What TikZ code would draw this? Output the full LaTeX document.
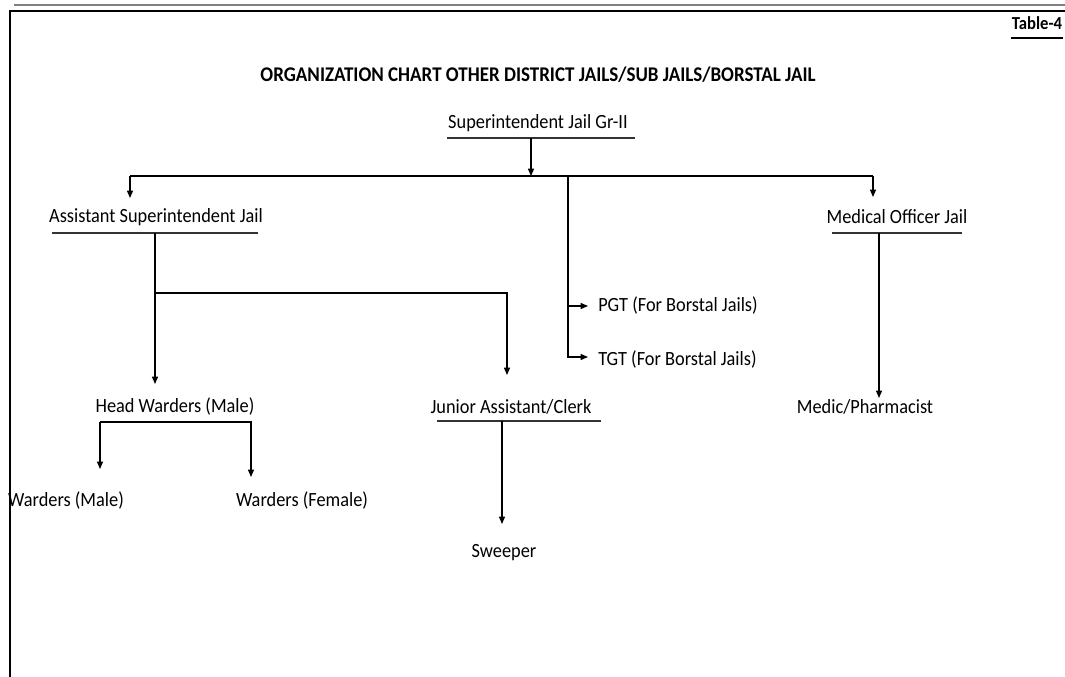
\documentclass[tikz,border=0pt]{standalone}
\usepackage{fontspec}
\setmainfont{Carlito}
\usetikzlibrary{arrows.meta}
% text in the chart is set slightly taller than wide
\newcommand{\tallbox}[1]{\scalebox{1}[1.1]{#1}}
\begin{document}
\begin{tikzpicture}[x=0.75pt,y=-0.75pt,
  lbl/.style={inner sep=0pt, anchor=base, font=\fontsize{13.75}{16}\selectfont},
  lblw/.style={lbl, anchor=base west},
  head/.style={inner sep=0pt, anchor=base, font=\bfseries\fontsize{14.25}{17}\selectfont},
  conn/.style={line width=0.85pt},
  arr/.style={conn, -{Triangle[length=5.5pt,width=4.5pt]}},
  uline/.style={line width=0.85pt, draw=black!80},
  frame/.style={line width=1.6pt},
]
\useasboundingbox (0,0) rectangle (1065,677);

% headings
\node[head, font=\bfseries\fontsize{12.5}{15}\selectfont] (tab) at (1037,30) {\tallbox{Table-4}};
\draw[line width=1.3pt] (1011,38) -- (1063,38);
\node[head] (title) at (538,82) {\tallbox{ORGANIZATION CHART OTHER DISTRICT JAILS/SUB JAILS/BORSTAL JAIL}};

% posts
\node[lbl] (sup) at (538,129) {\tallbox{Superintendent Jail Gr-II}};
\node[lbl] (asj) at (156,223) {\tallbox{Assistant Superintendent Jail}};
\node[lbl] (moj) at (897,224) {\tallbox{Medical Officer Jail}};
\node[lblw] (pgt) at (598,312) {\tallbox{PGT (For Borstal Jails)}};
\node[lblw] (tgt) at (598,366) {\tallbox{TGT (For Borstal Jails)}};
\node[lbl] (hw) at (175,413) {\tallbox{Head Warders (Male)}};
\node[lbl] (jac) at (511,414) {\tallbox{Junior Assistant/Clerk}};
\node[lbl] (med) at (865,414) {\tallbox{Medic/Pharmacist}};
\node[lbl] (wm) at (66,507) {\tallbox{Warders (Male)}};
\node[lbl] (wf) at (302,507) {\tallbox{Warders (Female)}};
\node[lbl] (sw) at (504,557) {\tallbox{Sweeper}};

% underlines below the posts
\draw[uline] (447,138) -- (635,138);
\draw[uline] (52,233) -- (258,233);
\draw[uline] (832,233) -- (962,233);
\draw[uline] (437,421) -- (601,421);

% connector points
\coordinate (supU) at (531,138);
\coordinate (busM) at (531,176);
\coordinate (busL) at (130,176);
\coordinate (busR) at (873,176);
\coordinate (busC) at (568,176);
\coordinate (asjIn) at (130,198);
\coordinate (mojIn) at (873,197);
\coordinate (pgtIn) at (588,306);
\coordinate (tgtIn) at (588,357);
\coordinate (asjU) at (155,233);
\coordinate (asjJ) at (155,293);
\coordinate (hwIn) at (155,384);
\coordinate (jacIn) at (507,375);
\coordinate (hwL) at (100,422);
\coordinate (wmIn) at (100,469);
\coordinate (wfIn) at (251,477);
\coordinate (jacU) at (502,421);
\coordinate (swIn) at (502,524);
\coordinate (mojU) at (879,233);
\coordinate (medIn) at (879,398);

% connectors
\draw[arr] (supU) -- (busM);
\draw[conn] (busL) -- (busR);
\draw[arr] (busL) -- (asjIn);
\draw[arr] (busR) -- (mojIn);
\draw[arr] (busC) |- (pgtIn);
\draw[arr] (busC) |- (tgtIn);
\draw[arr] (asjU) -- (hwIn);
\draw[arr] (asjJ) -| (jacIn);
\draw[arr] (hwL) -- (wmIn);
\draw[arr] (hwL) -| (wfIn);
\draw[arr] (jacU) -- (swIn);
\draw[arr] (mojU) -- (medIn);

% page frame
\draw[line width=0.9pt, gray] (14,5) -- (1065,5);
\draw[frame] (9,11) -- (1065,11);
\draw[frame] (10,10) -- (10,677);
\end{tikzpicture}
\end{document}
